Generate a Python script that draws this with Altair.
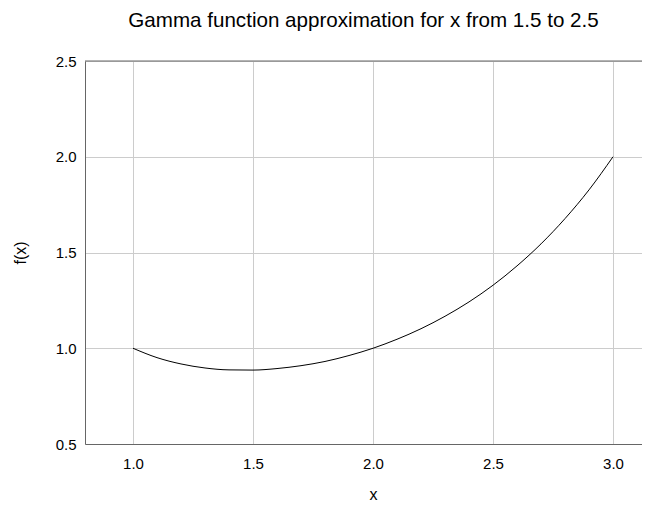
import altair as alt
import pandas as pd

# Values
xs = [1.0, 1.1, 1.2, 1.3, 1.4, 1.5, 1.6, 1.7, 1.8, 1.9, 2.0,
      2.1, 2.2, 2.3, 2.4, 2.5, 2.6, 2.7, 2.8, 2.9, 3.0]
fx = [1.0, 0.951, 0.918, 0.897, 0.887, 0.886, 0.894, 0.909, 0.931, 0.962, 1.0,
      1.047, 1.102, 1.167, 1.242, 1.329, 1.430, 1.545, 1.677, 1.827, 2.0]

x_ticks = [1.0, 1.5, 2.0, 2.5, 3.0]
y_ticks = [0.5, 1.0, 1.5, 2.0, 2.5]
x_domain = [0.8, 3.2]
y_domain = [0.5, 2.5]

df = pd.DataFrame({"x": xs, "f": fx})

FONT = "Liberation Sans"
W, H = 557, 383
XRANGE = 576  # full x extent; the right part runs past the page edge

line = alt.Chart(df).mark_line(color="black", strokeWidth=1, interpolate="monotone").encode(
    x=alt.X("x:Q", scale=alt.Scale(domain=x_domain, range=[0, XRANGE], nice=False, zero=False),
            axis=alt.Axis(values=x_ticks, format=".1f", title="x", ticks=False,
                          labelPadding=12, grid=True, gridColor="#cccccc",
                          domainColor="#666666", labelFontSize=15, labelFont=FONT,
                          labelColor="black", titleFont=FONT, titleFontSize=16,
                          titleFontWeight="normal", titleColor="black",
                          titleX=XRANGE / 2, titleY=55, titleBaseline="alphabetic")),
    y=alt.Y("f:Q", scale=alt.Scale(domain=y_domain, nice=False, zero=False),
            axis=alt.Axis(values=y_ticks, format=".1f", title="f(x)", ticks=False,
                          labelPadding=9, grid=True, gridColor="#cccccc",
                          domainColor="#666666", labelFontSize=15, labelFont=FONT,
                          labelColor="black", titleFont=FONT, titleFontSize=16,
                          titleFontWeight="normal", titleColor="black",
                          titleX=-65, titleY=H / 2, titleBaseline="middle")),
)

top_border = alt.Chart(pd.DataFrame({"v": [y_domain[1]]})).mark_rule(
    color="#666666", strokeWidth=1).encode(y=alt.Y("v:Q", title="f(x)"))

chart = alt.layer(top_border, line).properties(
    width=W, height=H,
    title=alt.TitleParams("Gamma function approximation for x from 1.5 to 2.5",
                          font=FONT, fontSize=20.6, fontWeight="normal", color="black",
                          anchor="middle", frame="group", baseline="alphabetic", offset=6),
    autosize=alt.AutoSizeParams(type="none"),
    padding={"left": 77, "top": 53, "right": 0, "bottom": 60},
).configure_view(stroke=None)

chart.save("out.html", embed_options={"renderer": "svg", "actions": False})
